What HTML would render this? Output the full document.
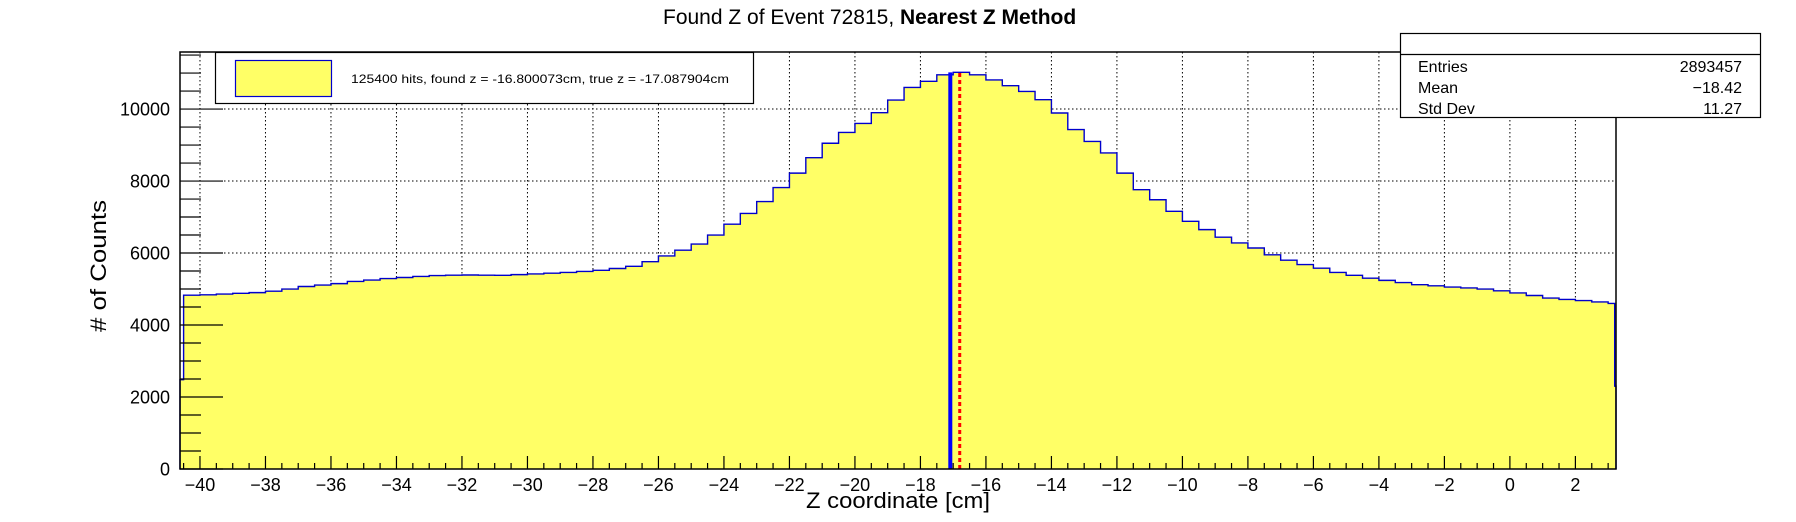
<!DOCTYPE html>
<html><head><meta charset="utf-8"><style>
html,body{margin:0;padding:0;background:#fff;}
svg{display:block;font-family:"Liberation Sans",Arial,sans-serif;}
</style></head><body>
<svg id="chart" width="1796" height="522" viewBox="0 0 1796 522" xmlns="http://www.w3.org/2000/svg">
<rect x="0" y="0" width="1796" height="522" fill="#fff"/>
<g id="grid"></g>
<g id="hist"></g>
<g id="markers"></g>
<g id="axes"></g>
<text x="663" y="24" font-size="21"><tspan>Found Z of Event 72815,   </tspan><tspan font-weight="bold">Nearest Z Method</tspan></text>
<text x="898" y="508" font-size="22" text-anchor="middle" textLength="184" lengthAdjust="spacingAndGlyphs">Z coordinate [cm]</text>
<text transform="translate(106,266) rotate(-90)" font-size="22" text-anchor="middle" textLength="132" lengthAdjust="spacingAndGlyphs"># of Counts</text>
<g>
<rect x="215.5" y="52.5" width="538" height="51" fill="#fff" stroke="#000" stroke-width="1.2"/>
<rect x="235.5" y="60.5" width="96" height="36" fill="#ffff66" stroke="#0000cc" stroke-width="1.2"/>
<text x="351" y="83" font-size="12" textLength="378" lengthAdjust="spacingAndGlyphs">125400 hits, found z = -16.800073cm, true z = -17.087904cm</text>
</g>
<g>
<rect x="1400.5" y="33.5" width="360" height="84" fill="#fff" stroke="#000" stroke-width="1.2"/>
<line x1="1400.5" y1="54.5" x2="1760.5" y2="54.5" stroke="#000" stroke-width="1.2"/>
<text x="1418" y="72" font-size="16">Entries</text>
<text x="1742" y="72" font-size="16" text-anchor="end">2893457</text>
<text x="1418" y="93" font-size="16">Mean</text>
<text x="1742" y="93" font-size="16" text-anchor="end">−18.42</text>
<text x="1418" y="114" font-size="16">Std Dev</text>
<text x="1742" y="114" font-size="16" text-anchor="end">11.27</text>
</g>
</svg>
<script>
// ---- data ----
const binEdges = [-40.61,-40.5,-40,-39.5,-39,-38.5,-38,-37.5,-37,-36.5,-36,-35.5,-35,-34.5,-34,-33.5,-33,-32.5,-32,-31.5,-31,-30.5,-30,-29.5,-29,-28.5,-28,-27.5,-27,-26.5,-26,-25.5,-25,-24.5,-24,-23.5,-23,-22.5,-22,-21.5,-21,-20.5,-20,-19.5,-19,-18.5,-18,-17.5,-17,-16.5,-16,-15.5,-15,-14.5,-14,-13.5,-13,-12.5,-12,-11.5,-11,-10.5,-10,-9.5,-9,-8.5,-8,-7.5,-7,-6.5,-6,-5.5,-5,-4.5,-4,-3.5,-3,-2.5,-2,-1.5,-1,-0.5,0,0.5,1,1.5,2,2.5,3,3.2,3.24];
const counts = [2480,4830,4840,4860,4880,4900,4940,5000,5070,5110,5150,5210,5250,5290,5320,5350,5375,5385,5390,5385,5380,5400,5420,5440,5460,5490,5520,5570,5630,5760,5920,6080,6250,6500,6800,7100,7430,7820,8220,8650,9050,9350,9600,9900,10250,10600,10770,10950,11020,10950,10810,10650,10490,10260,9890,9430,9100,8780,8220,7760,7480,7160,6880,6650,6440,6280,6140,5950,5800,5680,5580,5460,5380,5300,5240,5180,5120,5090,5055,5030,5000,4950,4890,4820,4750,4710,4680,4640,4600,2300];
const xTickValues = [-40,-38,-36,-34,-32,-30,-28,-26,-24,-22,-20,-18,-16,-14,-12,-10,-8,-6,-4,-2,0,2];
const yTickValues = [0,2000,4000,6000,8000,10000];
const trueZ = -17.087904;
const foundZ = -16.800073;
const peakCount = 11020;

// ---- axes ----
const L=180,R=1616,T=52,B=469;
const xMin=-40.61,xMax=3.24,yMin=0,yMax=11585;
const xs=v=>L+(v-xMin)/(xMax-xMin)*(R-L);
const ys=v=>B-(v-yMin)/(yMax-yMin)*(B-T);
const NS="http://www.w3.org/2000/svg";
function mk(tag,attrs,parent){const e=document.createElementNS(NS,tag);for(const k in attrs)e.setAttribute(k,attrs[k]);parent.appendChild(e);return e;}
const grid=document.getElementById('grid'),hist=document.getElementById('hist'),axes=document.getElementById('axes'),markers=document.getElementById('markers');

xTickValues.forEach(v=>{const l=mk('line',{x1:xs(v),x2:xs(v),y1:T,y2:B,stroke:'#000','stroke-width':1,'stroke-dasharray':'1.5,2.5'},grid);

});
yTickValues.forEach(v=>{const l=mk('line',{x1:L,x2:R,y1:ys(v),y2:ys(v),stroke:'#000','stroke-width':1,'stroke-dasharray':'1.5,2.5'},grid);

});

let d=`M${xs(binEdges[0])},${ys(0)}`;
for(let i=0;i<counts.length;i++){d+=` L${xs(binEdges[i])},${ys(counts[i])} L${xs(binEdges[i+1])},${ys(counts[i])}`;}
d+=` L${xs(binEdges[binEdges.length-1])},${ys(0)} Z`;
const fill=mk('path',{d:d,fill:'#ffff66',stroke:'none'},hist);


let d2=`M${xs(binEdges[0])},${ys(0)}`;
for(let i=0;i<counts.length;i++){d2+=` L${xs(binEdges[i])},${ys(counts[i])} L${xs(binEdges[i+1])},${ys(counts[i])}`;}
d2+=` L${xs(binEdges[binEdges.length-1])},${ys(0)}`;
const outl=mk('path',{d:d2,fill:'none',stroke:'#0000cc','stroke-width':1.4},hist);



const tl=mk('line',{x1:xs(trueZ),x2:xs(trueZ),y1:ys(0),y2:ys(peakCount),stroke:'#0000ff','stroke-width':4},markers);


const fl=mk('line',{x1:xs(foundZ),x2:xs(foundZ),y1:ys(0),y2:ys(peakCount),stroke:'#ff0000','stroke-width':3,'stroke-dasharray':'4,3'},markers);



const fr=mk('rect',{x:L,y:T,width:R-L,height:B-T,fill:'none',stroke:'#000','stroke-width':1.5},axes);



for(let v=-40.5;v<=3.24;v+=0.5){const major=Math.abs(v/2-Math.round(v/2))<1e-6;
const t=mk('line',{x1:xs(v),x2:xs(v),y1:B,y2:B-(major?13:6),stroke:'#000','stroke-width':1.2},axes);

}
xTickValues.forEach(v=>{const t=mk('text',{x:xs(v),y:491,'font-size':18,'text-anchor':'middle'},axes);t.textContent=(v<0?'−':'')+Math.abs(v);

});
for(let v=0;v<=yMax;v+=500){const major=v%2000===0;
const t=mk('line',{x1:L,x2:L+(major?43:21),y1:ys(v),y2:ys(v),stroke:'#000','stroke-width':1.2},axes);

}
yTickValues.forEach(v=>{const t=mk('text',{x:170,y:ys(v)+6.5,'font-size':18,'text-anchor':'end'},axes);t.textContent=String(v);

});
</script>
</body></html>
